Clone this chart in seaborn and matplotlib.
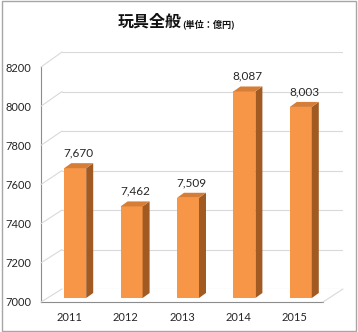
import matplotlib
matplotlib.use("Agg")
import matplotlib.pyplot as plt
from matplotlib.patches import Polygon, Rectangle
from matplotlib.lines import Line2D
from matplotlib.transforms import IdentityTransform
import seaborn as sns

# Toy market sales (100 million yen)
years = ["2011", "2012", "2013", "2014", "2015"]
sales = [7670, 7462, 7509, 8087, 8003]
y_ticks = [7000, 7200, 7400, 7600, 7800, 8000, 8200]
title = "玩具全般"
unit = "(単位：億円)"

W, H = 358, 332
YMIN, YMAX = 7000, 8200
BAR_FLOOR = 6964  # bars sit on the floor, slightly below the front 7000 edge

FRONT = "#F79646"
SIDE = "#A25A23"
TOP = "#D67D37"
GRID = "#D9D9D9"
AXIS = "#8C8C8C"
TEXT = "#262626"

sns.set_style("white")
plt.rcParams["font.family"] = ["Lato", "DejaVu Sans"]

fig = plt.figure(figsize=(W / 100, H / 100), dpi=100)
fig.patch.set_facecolor("white")


def box(left, top, right, bottom):
    """Axes rectangle from pixel edges measured from the top-left corner."""
    return [left / W, 1 - bottom / H, (right - left) / W, (bottom - top) / H]


# back wall with its gridlines
ax_back = fig.add_axes(box(62, 52, 343, 289))
ax_back.set_xlim(0, 1)
ax_back.set_ylim(YMIN, YMAX)
ax_back.patch.set_alpha(0)
for s in ax_back.spines.values():
    s.set_visible(False)
ax_back.set_xticks([])
ax_back.set_yticks([])
for v in y_ticks:
    ax_back.axhline(v, color=GRID, lw=0.8)

# front value axis and category axis
ax_front = fig.add_axes(box(41, 67, 323, 302))
ax_front.set_xlim(-0.5, len(years) - 0.5)
ax_front.set_ylim(YMIN, YMAX)
ax_front.patch.set_alpha(0)
for side in ("top", "right"):
    ax_front.spines[side].set_visible(False)
for side in ("left", "bottom"):
    ax_front.spines[side].set_color(AXIS)
    ax_front.spines[side].set_linewidth(0.8)
ax_front.set_yticks(y_ticks)
ax_front.set_yticklabels([str(v) for v in y_ticks])
ax_front.set_xticks([i - 0.5 for i in range(len(years) + 1)])
ax_front.set_xticklabels([])
ax_front.set_xticks(range(len(years)), minor=True)
ax_front.set_xticklabels(years, minor=True)
ax_front.tick_params(axis="both", which="major", direction="out", length=3,
                     width=0.8, color=AXIS, labelsize=8, labelcolor=TEXT)
ax_front.tick_params(axis="y", pad=4)
ax_front.tick_params(axis="x", which="minor", length=0, pad=7,
                     labelsize=8, labelcolor=TEXT)

# side wall diagonals and floor edge
for v in y_ticks:
    p0 = ax_front.transData.transform((-0.5, v))
    p1 = ax_back.transData.transform((0, v))
    fig.add_artist(Line2D([p0[0], p1[0]], [p0[1], p1[1]], color=GRID, lw=0.8,
                          transform=IdentityTransform()))
p0 = ax_front.transData.transform((len(years) - 0.5, YMIN))
p1 = ax_back.transData.transform((1, YMIN))
fig.add_artist(Line2D([p0[0], p1[0]], [p0[1], p1[1]], color=GRID, lw=0.8,
                      transform=IdentityTransform()))

# bars (mid-depth plane, slightly shifted from the front axis)
ax_bar = fig.add_axes(box(47, 70.7, 329, 298))
sns.barplot(x=years, y=sales, ax=ax_bar, color=FRONT, saturation=1,
            width=0.39, linewidth=0)
ax_bar.set_xlim(-0.5, len(years) - 0.5)
ax_bar.set_ylim(BAR_FLOOR, YMAX)
ax_bar.set_axis_off()

dx, dy = 7, 5
for patch, v in zip(ax_bar.patches, sales):
    x0 = patch.get_x()
    x1 = x0 + patch.get_width()
    X0, Yt = ax_bar.transData.transform((x0, v))
    X1, Yb = ax_bar.transData.transform((x1, BAR_FLOOR))
    fig.add_artist(Polygon([(X1, Yb), (X1, Yt), (X1 + dx, Yt + dy), (X1 + dx, Yb + dy)],
                           closed=True, facecolor=SIDE, edgecolor="none",
                           transform=IdentityTransform()))
    fig.add_artist(Polygon([(X0, Yt), (X1, Yt), (X1 + dx, Yt + dy), (X0 + dx, Yt + dy)],
                           closed=True, facecolor=TOP, edgecolor="none",
                           transform=IdentityTransform()))
    ax_bar.annotate(f"{v:,}", xy=((x0 + x1) / 2, v), xytext=(2.5, 11),
                    textcoords="offset points", ha="center", va="center",
                    fontsize=8.5, color=TEXT, annotation_clip=False)

# title
fig.text(118 / W, 1 - 27 / H, title, fontsize=11.5, fontweight="bold",
         family=["Noto Sans CJK JP", "DejaVu Sans"], color="#111111",
         ha="left", va="baseline")
fig.text(182 / W, 1 - 27 / H, unit, fontsize=6.6, fontweight="bold",
         family=["Noto Sans CJK JP", "DejaVu Sans"], color="#111111",
         ha="left", va="baseline")

# outer frame
fig.add_artist(Rectangle((1.5, 1.5), W - 4, H - 2.5, fill=False,
                         edgecolor="#A6A6A6", lw=1,
                         transform=IdentityTransform()))

fig.savefig("out.png", dpi=100, facecolor="white")
